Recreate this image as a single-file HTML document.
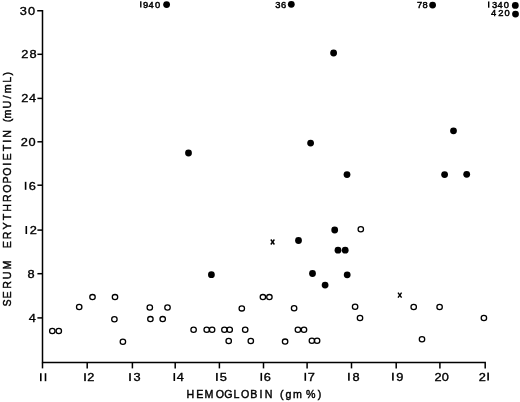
<!DOCTYPE html>
<html><head><meta charset="utf-8"><style>
html,body{margin:0;padding:0;background:#fff;}
body{width:520px;height:402px;overflow:hidden;}
svg{display:block;}
text{font-family:"Liberation Sans", sans-serif;fill:#000;stroke:#000;stroke-width:0.45px;}
svg{will-change:transform;}
</style></head><body>
<svg width="520" height="402" viewBox="0 0 520 402">
<rect width="520" height="402" fill="#fff"/>
<g stroke="#000" stroke-width="1.5" fill="none" stroke-linecap="butt">
<path d="M37.2 10.7 H42.5 V362.6 H485.2 V368.4"/>
<path d="M37.4 54.3 H42.5"/>
<path d="M37.4 98.4 H42.5"/>
<path d="M37.4 141.8 H42.5"/>
<path d="M37.4 185.2 H42.5"/>
<path d="M37.4 230.1 H42.5"/>
<path d="M37.4 273.7 H42.5"/>
<path d="M37.4 317.9 H42.5"/>
<path d="M42.5 362.6 V368.4"/>
<path d="M87.2 362.6 V368.4"/>
<path d="M132.4 362.6 V368.4"/>
<path d="M175.2 362.6 V368.4"/>
<path d="M219.4 362.6 V368.4"/>
<path d="M263.5 362.6 V368.4"/>
<path d="M307.1 362.6 V368.4"/>
<path d="M351.5 362.6 V368.4"/>
<path d="M396.2 362.6 V368.4"/>
<path d="M439.9 362.6 V368.4"/>
</g>
<g font-size="11.40" text-anchor="middle" fill="#000">
<rect x="40.00" y="373.22" width="1.60" height="7.98"/>
<rect x="44.70" y="373.21" width="1.60" height="7.98"/>
<rect x="84.20" y="373.15" width="1.60" height="7.98"/>
<text x="81.03" y="381.12" transform="scale(1.120,1)" style="stroke-width:0.35px">2</text>
<rect x="129.20" y="373.08" width="1.60" height="7.98"/>
<text x="122.32" y="381.05" transform="scale(1.120,1)" style="stroke-width:0.35px">3</text>
<rect x="173.50" y="373.02" width="1.60" height="7.98"/>
<text x="160.98" y="380.99" transform="scale(1.120,1)" style="stroke-width:0.35px">4</text>
<rect x="216.10" y="372.95" width="1.60" height="7.98"/>
<text x="199.29" y="380.93" transform="scale(1.120,1)" style="stroke-width:0.35px">5</text>
<rect x="260.50" y="372.89" width="1.60" height="7.98"/>
<text x="238.75" y="380.86" transform="scale(1.120,1)" style="stroke-width:0.35px">6</text>
<rect x="304.50" y="372.82" width="1.60" height="7.98"/>
<text x="278.04" y="380.79" transform="scale(1.120,1)" style="stroke-width:0.35px">7</text>
<rect x="348.10" y="372.76" width="1.60" height="7.98"/>
<text x="317.86" y="380.73" transform="scale(1.120,1)" style="stroke-width:0.35px">8</text>
<rect x="392.10" y="372.69" width="1.60" height="7.98"/>
<text x="356.96" y="380.66" transform="scale(1.120,1)" style="stroke-width:0.35px">9</text>
<text x="391.07" y="380.60" transform="scale(1.120,1)" style="stroke-width:0.35px">2</text>
<text x="397.68" y="380.59" transform="scale(1.120,1)" style="stroke-width:0.35px">0</text>
<text x="430.62" y="380.54" transform="scale(1.120,1)" style="stroke-width:0.35px">2</text>
<rect x="487.30" y="372.55" width="1.60" height="7.98"/>
<text x="20.71" y="14.70" transform="scale(1.120,1)" style="stroke-width:0.35px">3</text>
<text x="28.12" y="14.70" transform="scale(1.120,1)" style="stroke-width:0.35px">0</text>
<text x="22.14" y="58.40" transform="scale(1.120,1)" style="stroke-width:0.35px">2</text>
<text x="29.46" y="58.40" transform="scale(1.120,1)" style="stroke-width:0.35px">8</text>
<text x="22.23" y="102.30" transform="scale(1.120,1)" style="stroke-width:0.35px">2</text>
<text x="29.02" y="102.30" transform="scale(1.120,1)" style="stroke-width:0.35px">4</text>
<text x="21.61" y="146.00" transform="scale(1.120,1)" style="stroke-width:0.35px">2</text>
<text x="28.66" y="146.00" transform="scale(1.120,1)" style="stroke-width:0.35px">0</text>
<rect x="24.80" y="181.82" width="1.60" height="7.98"/>
<text x="28.93" y="189.80" transform="scale(1.120,1)" style="stroke-width:0.35px">6</text>
<rect x="25.50" y="226.02" width="1.60" height="7.98"/>
<text x="29.64" y="234.00" transform="scale(1.120,1)" style="stroke-width:0.35px">2</text>
<text x="27.68" y="278.00" transform="scale(1.120,1)" style="stroke-width:0.35px">8</text>
<text x="28.84" y="322.00" transform="scale(1.120,1)" style="stroke-width:0.35px">4</text>
</g>
<g font-size="8.90" text-anchor="middle" fill="#000">
<rect x="140.10" y="1.27" width="1.40" height="6.23"/>
<text x="138.57" y="7.50" transform="scale(1.050,1)" style="stroke-width:0.45px">9</text>
<text x="143.90" y="7.50" transform="scale(1.050,1)" style="stroke-width:0.45px">4</text>
<text x="150.00" y="7.50" transform="scale(1.050,1)" style="stroke-width:0.45px">0</text>
<text x="264.67" y="7.60" transform="scale(1.050,1)" style="stroke-width:0.45px">3</text>
<text x="270.00" y="7.60" transform="scale(1.050,1)" style="stroke-width:0.45px">6</text>
<text x="399.62" y="7.60" transform="scale(1.050,1)" style="stroke-width:0.45px">7</text>
<text x="404.86" y="7.60" transform="scale(1.050,1)" style="stroke-width:0.45px">8</text>
<rect x="488.00" y="1.47" width="1.40" height="6.23"/>
<text x="470.95" y="7.70" transform="scale(1.050,1)" style="stroke-width:0.45px">3</text>
<text x="476.38" y="7.70" transform="scale(1.050,1)" style="stroke-width:0.45px">4</text>
<text x="482.29" y="7.70" transform="scale(1.050,1)" style="stroke-width:0.45px">0</text>
<text x="470.00" y="16.50" transform="scale(1.050,1)" style="stroke-width:0.45px">4</text>
<text x="477.05" y="16.50" transform="scale(1.050,1)" style="stroke-width:0.45px">2</text>
<text x="483.05" y="16.50" transform="scale(1.050,1)" style="stroke-width:0.45px">0</text>
</g>
<g font-size="11.60" text-anchor="middle" style="stroke-width:0.55px">
<text x="206.85" y="398.40" transform="scale(0.920,1)">H</text>
<text x="217.12" y="398.40" transform="scale(0.920,1)">E</text>
<text x="227.17" y="398.40" transform="scale(0.920,1)">M</text>
<text x="238.97" y="398.40" transform="scale(0.920,1)">O</text>
<text x="248.37" y="398.40" transform="scale(0.920,1)">G</text>
<text x="257.12" y="398.40" transform="scale(0.920,1)">L</text>
<text x="266.36" y="398.40" transform="scale(0.920,1)">O</text>
<text x="275.87" y="398.40" transform="scale(0.920,1)">B</text>
<text x="283.80" y="398.40" transform="scale(0.920,1)">I</text>
<text x="292.01" y="398.40" transform="scale(0.920,1)">N</text>
<text x="306.25" y="398.40" transform="scale(0.920,1)">(</text>
<text x="313.64" y="398.40" transform="scale(0.920,1)">g</text>
<text x="323.37" y="398.40" transform="scale(0.920,1)">m</text>
<text x="337.88" y="398.40" transform="scale(0.920,1)">%</text>
<text x="347.28" y="398.40" transform="scale(0.920,1)">)</text>
</g>
<g font-size="11.60" text-anchor="middle" style="stroke-width:0.55px">
<text x="0" y="0" transform="translate(11.30,302.95) rotate(-90) scale(0.920,1)">S</text>
<text x="0" y="0" transform="translate(11.30,294.90) rotate(-90) scale(0.920,1)">E</text>
<text x="0" y="0" transform="translate(11.30,285.00) rotate(-90) scale(0.920,1)">R</text>
<text x="0" y="0" transform="translate(11.30,275.35) rotate(-90) scale(0.920,1)">U</text>
<text x="0" y="0" transform="translate(11.30,264.95) rotate(-90) scale(0.920,1)">M</text>
<text x="0" y="0" transform="translate(11.30,244.60) rotate(-90) scale(0.920,1)">E</text>
<text x="0" y="0" transform="translate(11.30,235.35) rotate(-90) scale(0.920,1)">R</text>
<text x="0" y="0" transform="translate(11.30,226.00) rotate(-90) scale(0.920,1)">Y</text>
<text x="0" y="0" transform="translate(11.30,216.90) rotate(-90) scale(0.920,1)">T</text>
<text x="0" y="0" transform="translate(11.30,207.95) rotate(-90) scale(0.920,1)">H</text>
<text x="0" y="0" transform="translate(11.30,198.20) rotate(-90) scale(0.920,1)">R</text>
<text x="0" y="0" transform="translate(11.30,188.50) rotate(-90) scale(0.920,1)">O</text>
<text x="0" y="0" transform="translate(11.30,179.90) rotate(-90) scale(0.920,1)">P</text>
<text x="0" y="0" transform="translate(11.30,171.50) rotate(-90) scale(0.920,1)">O</text>
<text x="0" y="0" transform="translate(11.30,164.25) rotate(-90) scale(0.920,1)">I</text>
<text x="0" y="0" transform="translate(11.30,157.00) rotate(-90) scale(0.920,1)">E</text>
<text x="0" y="0" transform="translate(11.30,147.90) rotate(-90) scale(0.920,1)">T</text>
<text x="0" y="0" transform="translate(11.30,141.30) rotate(-90) scale(0.920,1)">I</text>
<text x="0" y="0" transform="translate(11.30,133.85) rotate(-90) scale(0.920,1)">N</text>
<text x="0" y="0" transform="translate(11.30,120.40) rotate(-90) scale(0.920,1)">(</text>
<text x="0" y="0" transform="translate(11.30,114.10) rotate(-90) scale(0.920,1)">m</text>
<text x="0" y="0" transform="translate(11.30,104.65) rotate(-90) scale(0.920,1)">U</text>
<text x="0" y="0" transform="translate(11.30,96.95) rotate(-90) scale(0.920,1)">/</text>
<text x="0" y="0" transform="translate(11.30,88.75) rotate(-90) scale(0.920,1)">m</text>
<text x="0" y="0" transform="translate(11.30,79.80) rotate(-90) scale(0.920,1)">L</text>
<text x="0" y="0" transform="translate(11.30,73.80) rotate(-90) scale(0.920,1)">)</text>
</g>
<g fill="#000">
<circle cx="188.5" cy="153.0" r="3.4"/>
<circle cx="333.6" cy="53.0" r="3.4"/>
<circle cx="310.6" cy="143.1" r="3.4"/>
<circle cx="453.5" cy="130.8" r="3.4"/>
<circle cx="347.0" cy="174.6" r="3.4"/>
<circle cx="444.6" cy="174.6" r="3.4"/>
<circle cx="466.7" cy="174.3" r="3.4"/>
<circle cx="298.5" cy="240.5" r="3.4"/>
<circle cx="334.7" cy="230.0" r="3.4"/>
<circle cx="338.0" cy="250.2" r="3.4"/>
<circle cx="345.2" cy="250.2" r="3.4"/>
<circle cx="312.5" cy="273.5" r="3.4"/>
<circle cx="347.2" cy="274.8" r="3.4"/>
<circle cx="325.1" cy="285.1" r="3.4"/>
<circle cx="211.4" cy="274.7" r="3.4"/>
<circle cx="166.6" cy="4.6" r="3.4"/>
<circle cx="291.3" cy="4.3" r="3.4"/>
<circle cx="432.6" cy="5.1" r="3.4"/>
<circle cx="515.3" cy="5.4" r="3.4"/>
<circle cx="515.5" cy="14.1" r="3.4"/>
</g>
<g fill="none" stroke="#000" stroke-width="1.28">
<ellipse cx="52.3" cy="331.0" rx="2.72" ry="2.6"/>
<ellipse cx="58.8" cy="331.0" rx="2.72" ry="2.6"/>
<ellipse cx="79.2" cy="307.0" rx="2.72" ry="2.6"/>
<ellipse cx="92.5" cy="297.1" rx="2.72" ry="2.6"/>
<ellipse cx="115.0" cy="297.1" rx="2.72" ry="2.6"/>
<ellipse cx="114.4" cy="319.2" rx="2.72" ry="2.6"/>
<ellipse cx="122.9" cy="341.8" rx="2.72" ry="2.6"/>
<ellipse cx="149.8" cy="307.5" rx="2.72" ry="2.6"/>
<ellipse cx="167.5" cy="307.5" rx="2.72" ry="2.6"/>
<ellipse cx="150.4" cy="319.1" rx="2.72" ry="2.6"/>
<ellipse cx="162.7" cy="319.1" rx="2.72" ry="2.6"/>
<ellipse cx="193.6" cy="329.7" rx="2.72" ry="2.6"/>
<ellipse cx="206.7" cy="329.7" rx="2.72" ry="2.6"/>
<ellipse cx="212.1" cy="329.7" rx="2.72" ry="2.6"/>
<ellipse cx="224.4" cy="329.7" rx="2.72" ry="2.6"/>
<ellipse cx="229.7" cy="329.7" rx="2.72" ry="2.6"/>
<ellipse cx="245.2" cy="329.7" rx="2.72" ry="2.6"/>
<ellipse cx="228.7" cy="341.0" rx="2.72" ry="2.6"/>
<ellipse cx="250.8" cy="341.0" rx="2.72" ry="2.6"/>
<ellipse cx="241.8" cy="308.4" rx="2.72" ry="2.6"/>
<ellipse cx="262.9" cy="297.1" rx="2.72" ry="2.6"/>
<ellipse cx="269.4" cy="297.1" rx="2.72" ry="2.6"/>
<ellipse cx="294.1" cy="308.2" rx="2.72" ry="2.6"/>
<ellipse cx="285.1" cy="341.6" rx="2.72" ry="2.6"/>
<ellipse cx="297.9" cy="329.8" rx="2.72" ry="2.6"/>
<ellipse cx="304.0" cy="329.8" rx="2.72" ry="2.6"/>
<ellipse cx="311.9" cy="340.8" rx="2.72" ry="2.6"/>
<ellipse cx="317.1" cy="340.8" rx="2.72" ry="2.6"/>
<ellipse cx="360.8" cy="229.2" rx="2.72" ry="2.6"/>
<ellipse cx="355.1" cy="306.8" rx="2.72" ry="2.6"/>
<ellipse cx="360.0" cy="318.0" rx="2.72" ry="2.6"/>
<ellipse cx="413.7" cy="307.0" rx="2.72" ry="2.6"/>
<ellipse cx="439.6" cy="307.0" rx="2.72" ry="2.6"/>
<ellipse cx="483.9" cy="318.0" rx="2.72" ry="2.6"/>
<ellipse cx="422.0" cy="339.3" rx="2.72" ry="2.6"/>
</g>
<g stroke="#000" stroke-width="1.4" fill="none">
<path d="M270.8 239.5 L274.4 244.5 M274.4 239.5 L270.8 244.5"/>
<path d="M398.0 292.7 L401.6 297.7 M401.6 292.7 L398.0 297.7"/>
</g>
</svg></body></html>
